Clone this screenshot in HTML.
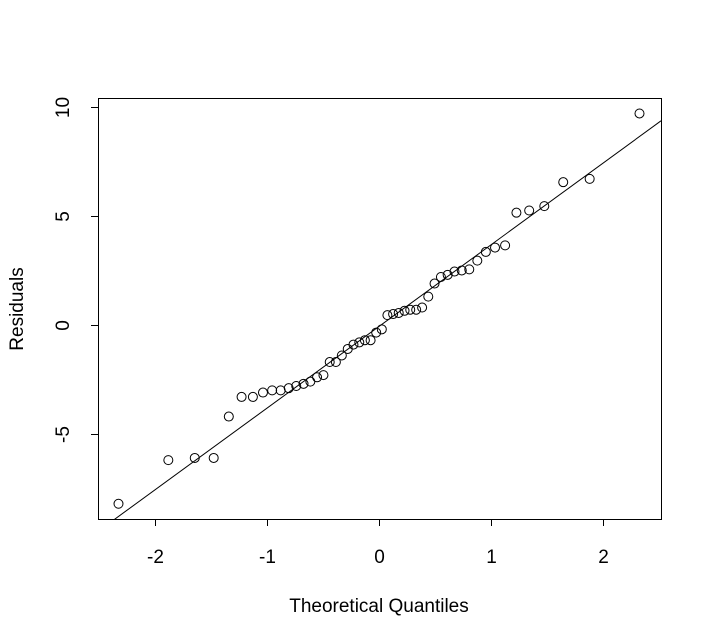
<!DOCTYPE html>
<html><head><meta charset="utf-8"><style>
body{margin:0;background:#fff}
svg{display:block;font-family:"Liberation Sans",Arial,sans-serif}
</style></head><body>
<svg id="c" width="712" height="643"></svg>
<script>
const theoreticalQuantiles=[-2.326,-1.881,-1.645,-1.476,-1.341,-1.227,-1.126,-1.036,-0.954,-0.878,-0.806,-0.739,-0.674,-0.613,-0.553,-0.496,-0.440,-0.385,-0.332,-0.279,-0.228,-0.176,-0.126,-0.075,-0.025,0.025,0.075,0.126,0.176,0.228,0.279,0.332,0.385,0.440,0.496,0.553,0.613,0.674,0.739,0.806,0.878,0.954,1.036,1.126,1.227,1.341,1.476,1.645,1.881,2.326];
const residuals=[-8.2,-6.2,-6.1,-6.1,-4.2,-3.3,-3.3,-3.1,-3.0,-3.0,-2.9,-2.8,-2.7,-2.6,-2.4,-2.3,-1.7,-1.7,-1.4,-1.1,-0.9,-0.8,-0.7,-0.7,-0.35,-0.2,0.45,0.5,0.55,0.65,0.7,0.7,0.8,1.3,1.9,2.2,2.3,2.45,2.5,2.55,2.95,3.35,3.55,3.65,5.15,5.25,5.45,6.55,6.7,9.7];
const xTicks=[-2,-1,0,1,2];
const yTicks=[-5,0,5,10];
const lineParams=[3.746,-0.07]; // slope, intercept
const L=98,R=661,T=98,B=519;
const xMin=-2.509,xMax=2.518,yMin=-8.9,yMax=10.41;
const sx=v=>L+(v-xMin)/(xMax-xMin)*(R-L);
const sy=v=>B-(v-yMin)/(yMax-yMin)*(B-T);
const svg=document.getElementById('c');
const NS='http://www.w3.org/2000/svg';
function mk(t,a,txt){const e=document.createElementNS(NS,t);for(const k in a)e.setAttribute(k,a[k]);if(txt!=null)e.textContent=txt;svg.appendChild(e);return e;}
let e;
e=mk('rect',{x:L+.5,y:T+.5,width:R-L,height:B-T,fill:'none',stroke:'#000'});


xTicks.forEach(t=>{const x=Math.round(sx(t))+.5;
 e=mk('line',{x1:x,x2:x,y1:B,y2:B+7,stroke:'#000'});
 
 
 e=mk('text',{x:x,y:563,'text-anchor':'middle','font-size':19},String(t));
 
 });
yTicks.forEach(t=>{const y=Math.round(sy(t))+.5;
 e=mk('line',{x1:L-7,x2:L,y1:y,y2:y,stroke:'#000'});
 
 
 e=mk('text',{x:0,y:0,'text-anchor':'middle','font-size':19,transform:`translate(69,${y}) rotate(-90)`},String(t));
 
 });
e=mk('text',{x:379,y:612,'text-anchor':'middle','font-size':19},'Theoretical Quantiles');


e=mk('text',{x:0,y:0,'text-anchor':'middle','font-size':19,transform:'translate(23,309) rotate(-90)'},'Residuals');


const cp=mk('clipPath',{id:'cp'});
const cr=document.createElementNS(NS,'rect');
cr.setAttribute('x',L);cr.setAttribute('y',T);cr.setAttribute('width',R-L+1);cr.setAttribute('height',B-T);
cp.appendChild(cr);
const f=x=>lineParams[0]*x+lineParams[1];
e=mk('line',{x1:sx(xMin),y1:sy(f(xMin)),x2:sx(xMax),y2:sy(f(xMax)),stroke:'#000','clip-path':'url(#cp)'});


theoreticalQuantiles.forEach((q,i)=>{
 e=mk('circle',{cx:sx(q),cy:sy(residuals[i]),r:4.5,fill:'none',stroke:'#000'});
 
 });
</script>
</body></html>
